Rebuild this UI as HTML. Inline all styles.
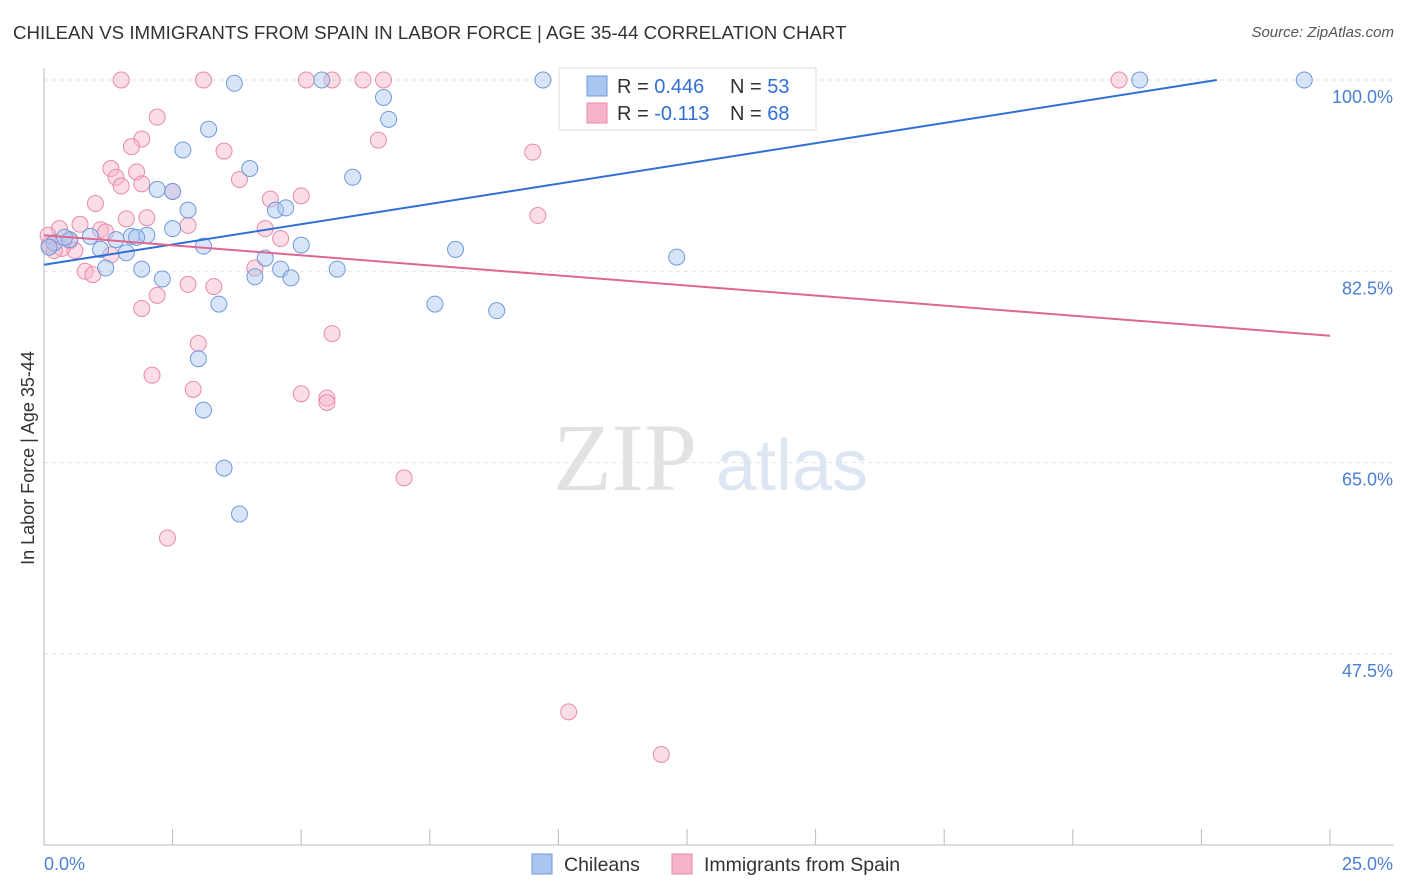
<!DOCTYPE html>
<html><head><meta charset="utf-8">
<style>
body{margin:0;background:#fff;font-family:"Liberation Sans",sans-serif;}
#wrap{position:relative;width:1406px;height:892px;overflow:hidden;}
.t{position:absolute;}
</style></head>
<body>
<div id="wrap">
<div class="t" style="left:13px;top:22px;font-size:18.7px;color:#333;">CHILEAN VS IMMIGRANTS FROM SPAIN IN LABOR FORCE | AGE 35-44 CORRELATION CHART</div>
<div class="t" style="right:12px;top:24px;font-size:15px;color:#555;font-style:italic;">Source: ZipAtlas.com</div>
<svg id="chart" width="1406" height="892" style="position:absolute;left:0;top:0"></svg>
</div>
<script>
const yTicks=[100,82.5,65,47.5];
const yTickLabels=["100.0%","82.5%","65.0%","47.5%"];
const blueX=[3.7,5.4,9.7,14.1,21.3,24.5,6.6,6.7,3.2,2.7,4.0,6.0,2.2,2.5,2.8,4.5,4.7,2.5,2.0,1.7,1.4,0.9,0.5,0.2,0.1,1.1,1.6,3.1,5.0,8.0,12.3,4.3,4.6,1.9,1.2,5.7,2.3,4.1,4.8,3.4,7.6,8.8,3.0,3.1,3.5,3.8,1.8,0.4];
const blueY=[99.7,100,100,100,100,100,98.4,96.4,95.5,93.6,91.9,91.1,90.0,89.8,88.1,88.1,88.3,86.4,85.8,85.7,85.4,85.7,85.4,85.1,84.7,84.5,84.2,84.8,84.9,84.5,83.8,83.7,82.7,82.7,82.8,82.7,81.8,82.0,81.9,79.5,79.5,78.9,74.5,69.8,64.5,60.3,85.6,85.6];
const pinkX=[1.5,3.1,5.1,5.6,6.2,6.6,20.9,2.2,1.9,1.7,3.5,9.5,6.5,1.3,1.8,1.4,1.5,3.8,1.9,2.5,4.4,5.0,9.6,1.0,2.0,1.6,2.8,4.3,4.6,0.7,0.3,1.1,1.2,0.5,0.6,0.35,1.3,0.8,0.95,4.1,2.8,3.3,2.2,1.9,3.0,5.6,2.1,2.9,5.0,5.5,5.5,7.0,2.4,10.2,12.0,0.1,0.08,0.2];
const pinkY=[100,100,100,100,100,100,100,96.6,94.6,93.9,93.5,93.4,94.5,91.9,91.6,91.1,90.3,90.9,90.5,89.8,89.1,89.4,87.6,88.7,87.4,87.3,86.7,86.4,85.5,86.8,86.4,86.3,86.1,85.3,84.4,84.6,84.0,82.5,82.2,82.8,81.3,81.1,80.3,79.1,75.9,76.8,73.0,71.7,71.3,70.9,70.5,63.6,58.1,42.2,38.3,84.9,85.8,84.4];
const blueLine=[[0,83.1],[22.8,100]];
const pinkLine=[[0,85.8],[25,76.6]];
const x0=44,x1=1330,yTop=80,pxPer=191.3/17.5;
const X=v=>x0+v*(x1-x0)/25;
const Y=v=>yTop+(100-v)*pxPer;
const svg=document.getElementById('chart');
const NS='http://www.w3.org/2000/svg';
function mk(t,a){const e=document.createElementNS(NS,t);for(const k in a)e.setAttribute(k,a[k]);svg.appendChild(e);return e;}
let w=mk('text',{x:553,y:490,'font-size':96,fill:'#e2e2e2','font-family':'Liberation Serif, serif'});w.textContent='ZIP';


w=mk('text',{x:716,y:490,'font-size':72,fill:'#dde6f3','font-family':'Liberation Sans, sans-serif'});w.textContent='atlas';


yTicks.forEach((v,i)=>{
 const g=mk('line',{x1:x0,x2:1394,y1:Y(v),y2:Y(v),stroke:'#e3e3e3','stroke-dasharray':'4,4'});
 
 
 const t=mk('text',{x:1393,y:Y(v)+23,'text-anchor':'end','font-size':18,fill:'#4a7fd4'});t.textContent=yTickLabels[i];
 
 
});
let a=mk('line',{x1:x0,x2:x0,y1:68,y2:845,stroke:'#bbb'});


a=mk('line',{x1:x0,x2:1394,y1:845,y2:845,stroke:'#bbb'});


for(let i=0;i<=10;i++){const tk=mk('line',{x1:X(i*2.5),x2:X(i*2.5),y1:829,y2:845,stroke:'#bbb'});
 
 }
let tl=mk('text',{x:44,y:870,'font-size':18,fill:'#4a7fd4'});tl.textContent='0.0%';


tl=mk('text',{x:1393,y:870,'text-anchor':'end','font-size':18,fill:'#4a7fd4'});tl.textContent='25.0%';


tl=mk('text',{x:34,y:458,'text-anchor':'middle','font-size':18,fill:'#333',transform:'rotate(-90 34 458)'});tl.textContent='In Labor Force | Age 35-44';


function pts(xs,ys,fill,stroke,name){xs.forEach((x,i)=>{const c=mk('circle',{cx:X(x),cy:Y(ys[i]),r:8,fill:fill,stroke:stroke,'stroke-width':1,'fill-opacity':0.45});
 
 });}
pts(pinkX,pinkY,'#f6b4c8','#e88aa8','pink-point');
pts(blueX,blueY,'#a9c6ef','#6f9bdc','blue-point');
let l=mk('line',{x1:X(blueLine[0][0]),y1:Y(blueLine[0][1]),x2:X(blueLine[1][0]),y2:Y(blueLine[1][1]),stroke:'#2f6fd6','stroke-width':2});


l=mk('line',{x1:X(pinkLine[0][0]),y1:Y(pinkLine[0][1]),x2:X(pinkLine[1][0]),y2:Y(pinkLine[1][1]),stroke:'#e0668f','stroke-width':2});


let r=mk('rect',{x:559,y:68,width:257,height:62,fill:'#fff',stroke:'#ddd'});


function leg(y,fill,stroke,rv,nv,nm){
 const s=mk('rect',{x:587,y:y-10,width:20,height:20,fill:fill,stroke:stroke});
 
 
 const t=mk('text',{x:617,y:y+7,'font-size':20,fill:'#333'});
 t.innerHTML='R = <tspan fill="#2f6fd6">'+rv+'</tspan><tspan x="730">N = </tspan><tspan fill="#2f6fd6">'+nv+'</tspan>';
 
 
}
leg(86,'#a9c6ef','#6f9bdc','0.446','53','chileans');
leg(113,'#f6b4c8','#e88aa8','-0.113','68','spain');
function bl(x,fill,stroke,label,nm){
 const s=mk('rect',{x:x,y:854,width:20,height:20,fill:fill,stroke:stroke});
 
 
 const t=mk('text',{x:x+32,y:871,'font-size':19.5,fill:'#333'});t.textContent=label;
 
 
}
bl(532,'#a9c6ef','#6f9bdc','Chileans','chileans');
bl(672,'#f6b4c8','#e88aa8','Immigrants from Spain','spain');
</script>
</body></html>
